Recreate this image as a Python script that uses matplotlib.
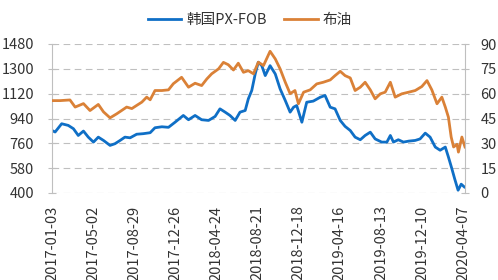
import pandas as pd
import matplotlib.pyplot as plt

plt.rcParams['font.family'] = ['Noto Sans CJK SC', 'DejaVu Sans']

# 韩国PX-FOB (左轴, 美元/吨)
px_dates = [
    "2017-01-03", "2017-01-12", "2017-01-31", "2017-02-19", "2017-03-06",
    "2017-03-20", "2017-04-04", "2017-04-18", "2017-05-03", "2017-05-17",
    "2017-06-01", "2017-06-20", "2017-07-04", "2017-07-19", "2017-08-02",
    "2017-08-17", "2017-09-05", "2017-09-24", "2017-10-14", "2017-10-28",
    "2017-11-17", "2017-12-06", "2017-12-25", "2018-01-18", "2018-02-02",
    "2018-02-21", "2018-03-12", "2018-04-01", "2018-04-20", "2018-05-04",
    "2018-05-19", "2018-06-02", "2018-06-17", "2018-07-01", "2018-07-16",
    "2018-07-25", "2018-08-04", "2018-08-14", "2018-08-23", "2018-09-02",
    "2018-09-12", "2018-09-26", "2018-10-11", "2018-10-25", "2018-11-09",
    "2018-11-23", "2018-12-03", "2018-12-12", "2018-12-27", "2019-01-10",
    "2019-01-29", "2019-02-18", "2019-03-04", "2019-03-19", "2019-04-02",
    "2019-04-17", "2019-05-01", "2019-05-16", "2019-05-30", "2019-06-14",
    "2019-06-28", "2019-07-13", "2019-07-27", "2019-08-15", "2019-08-30",
    "2019-09-09", "2019-09-18", "2019-10-02", "2019-10-17", "2019-11-01",
    "2019-11-20", "2019-12-04", "2019-12-19", "2020-01-02", "2020-01-17",
    "2020-01-31", "2020-02-15", "2020-02-24", "2020-03-05", "2020-03-13",
    "2020-03-23", "2020-04-01", "2020-04-10",
]
px_values = [
    853, 842, 902, 890, 866, 817, 849, 805, 769, 805,
    781, 745, 757, 781, 805, 800, 826, 830, 837, 873,
    880, 876, 913, 962, 931, 962, 931, 926, 955, 1010,
    986, 962, 926, 986, 998, 1082, 1143, 1263, 1348, 1323,
    1251, 1323, 1263, 1155, 1070, 986, 1022, 1034, 913, 1058,
    1066, 1094, 1107, 1022, 1010, 926, 883, 853, 805, 786,
    817, 841, 792, 769, 769, 817, 769, 786, 769, 776,
    781, 792, 834, 805, 733, 710, 733, 661, 576, 504,
    420, 464, 444,
]

# 布油 (右轴, 美元/桶)
brent_dates = [
    "2017-01-03", "2017-01-26", "2017-02-24", "2017-03-11", "2017-04-04",
    "2017-04-23", "2017-05-17", "2017-06-01", "2017-06-20", "2017-07-09",
    "2017-07-24", "2017-08-07", "2017-08-22", "2017-09-05", "2017-09-20",
    "2017-10-04", "2017-10-14", "2017-10-28", "2017-11-17", "2017-12-06",
    "2017-12-20", "2018-01-13", "2018-02-02", "2018-02-21", "2018-03-12",
    "2018-03-27", "2018-04-10", "2018-04-30", "2018-05-14", "2018-05-28",
    "2018-06-12", "2018-06-26", "2018-07-11", "2018-07-25", "2018-08-09",
    "2018-08-23", "2018-09-07", "2018-09-26", "2018-10-11", "2018-10-25",
    "2018-11-09", "2018-11-23", "2018-12-07", "2018-12-17", "2019-01-01",
    "2019-01-20", "2019-02-08", "2019-02-27", "2019-03-19", "2019-04-02",
    "2019-04-17", "2019-05-01", "2019-05-16", "2019-05-30", "2019-06-14",
    "2019-06-28", "2019-07-13", "2019-07-27", "2019-08-11", "2019-08-25",
    "2019-09-09", "2019-09-23", "2019-10-12", "2019-11-01", "2019-11-20",
    "2019-12-09", "2019-12-24", "2020-01-07", "2020-01-22", "2020-02-05",
    "2020-02-15", "2020-02-24", "2020-03-03", "2020-03-10", "2020-03-20",
    "2020-03-24", "2020-04-03", "2020-04-12",
]
brent_values = [
    55.8, 55.8, 56.2, 51.9, 54.0, 49.8, 53.5, 49.0, 45.4, 47.8,
    49.9, 51.9, 51.0, 52.9, 54.9, 57.9, 56.3, 61.9, 61.9, 62.3,
    66.0, 69.9, 63.9, 66.3, 64.9, 68.9, 72.0, 75.0, 78.9, 77.5,
    74.3, 78.4, 72.9, 73.9, 72.0, 79.0, 77.0, 85.6, 81.0, 75.0,
    66.9, 60.0, 61.9, 53.9, 60.9, 62.3, 65.9, 66.9, 68.3, 70.9,
    73.5, 70.9, 69.5, 61.9, 63.9, 66.9, 62.3, 56.9, 59.9, 60.9,
    66.9, 57.9, 59.9, 60.9, 61.9, 64.3, 67.9, 62.3, 53.9, 57.9,
    51.9, 45.8, 33.8, 27.8, 29.4, 24.7, 33.8, 27.8,
]

tick_dates = [
    "2017-01-03", "2017-05-02", "2017-08-29", "2017-12-26", "2018-04-24",
    "2018-08-21", "2018-12-18", "2019-04-16", "2019-08-13", "2019-12-10",
    "2020-04-07",
]

grey = '#BFBFBF'
text_col = '#333333'

fig = plt.figure(figsize=(4.98, 2.8), dpi=100)
ax = fig.add_axes([52 / 498, 1 - 193 / 280, (465 - 52) / 498, (193 - 44) / 280])
ax2 = ax.twinx()

l1, = ax.plot(pd.to_datetime(px_dates), px_values, color='#0F6FC6', lw=2, label='韩国PX-FOB')
l2, = ax2.plot(pd.to_datetime(brent_dates), brent_values, color='#DA8137', lw=2, label='布油')

ax.set_ylim(400, 1480)
ax.set_yticks(range(400, 1481, 180))
ax2.set_ylim(0, 90)
ax2.set_yticks(range(0, 91, 15))

ticks = pd.to_datetime(tick_dates)
ax.set_xlim(ticks[0], pd.Timestamp("2020-04-12"))
ax.set_xticks(ticks)
ax.set_xticklabels(tick_dates, rotation=90, va='top', ha='center')

ax.yaxis.grid(True, ls=(0, (6, 4)), color=grey, lw=0.8)
ax.set_axisbelow(True)

for s in ['top', 'bottom', 'right']:
    ax.spines[s].set_visible(False)
for s in ['top', 'bottom', 'left']:
    ax2.spines[s].set_visible(False)
ax.spines['left'].set_color(grey)
ax2.spines['right'].set_color(grey)

ax.tick_params(axis='y', direction='inout', length=6, color=grey, pad=10,
               labelsize=10.5, labelcolor=text_col)
ax2.tick_params(axis='y', direction='inout', length=6, color=grey, pad=8,
                labelsize=10.5, labelcolor=text_col)
ax.tick_params(axis='x', length=0, pad=9, labelsize=10.5, labelcolor=text_col)

fig.legend(handles=[l1, l2], loc='center', bbox_to_anchor=(0.502, 0.929), ncol=2,
           frameon=False, fontsize=10.5, handlelength=2.3, handletextpad=0.35,
           columnspacing=1.2, labelcolor=text_col)

fig.savefig('out.png', dpi=100)
